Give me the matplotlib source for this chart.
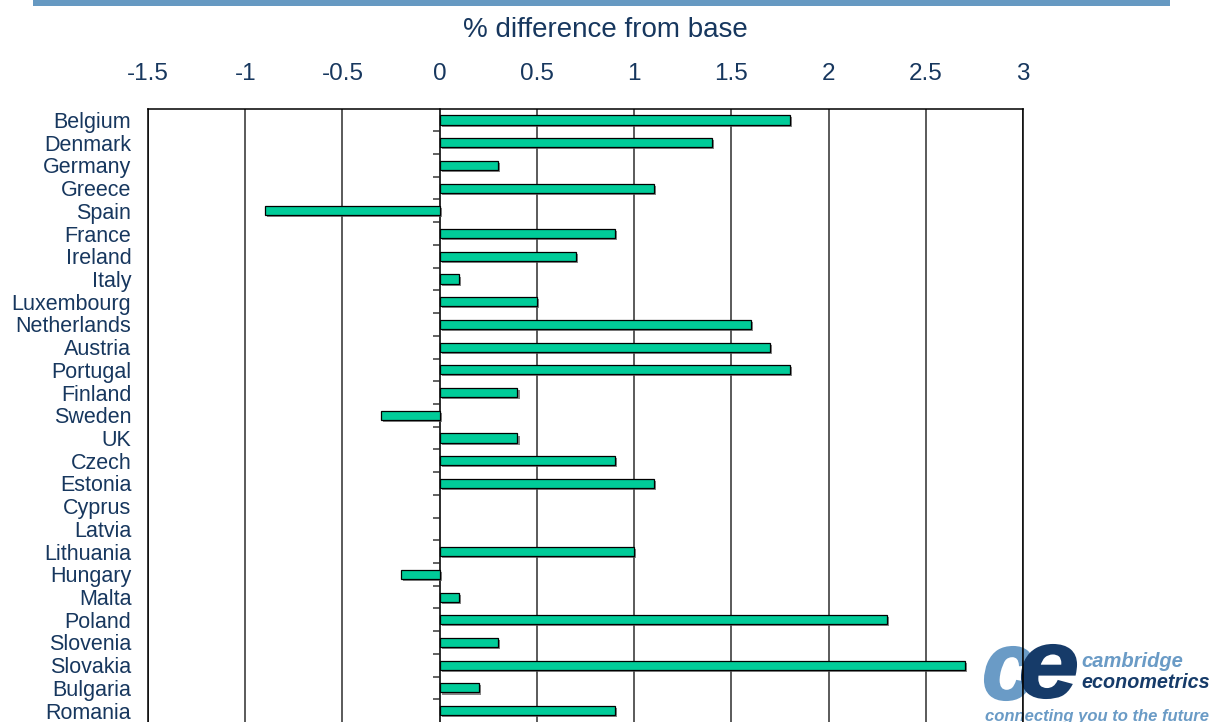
import numpy as np
import matplotlib
matplotlib.use("Agg")
import matplotlib.pyplot as plt
from matplotlib import patheffects, font_manager
from matplotlib.patches import Rectangle, PathPatch
from matplotlib.textpath import TextPath
from matplotlib.font_manager import FontProperties
from matplotlib.transforms import Affine2D

countries = ["Belgium", "Denmark", "Germany", "Greece", "Spain", "France", "Ireland",
             "Italy", "Luxembourg", "Netherlands", "Austria", "Portugal", "Finland",
             "Sweden", "UK", "Czech", "Estonia", "Cyprus", "Latvia", "Lithuania",
             "Hungary", "Malta", "Poland", "Slovenia", "Slovakia", "Bulgaria", "Romania"]
values = [1.8, 1.4, 0.3, 1.1, -0.9, 0.9, 0.7, 0.1, 0.5, 1.6, 1.7, 1.8, 0.4,
          -0.3, 0.4, 0.9, 1.1, 0.0, 0.0, 1.0, -0.2, 0.1, 2.3, 0.3, 2.7, 0.2, 0.9]
x_ticks = [-1.5, -1, -0.5, 0, 0.5, 1, 1.5, 2, 2.5, 3]
x_tick_labels = ["-1.5", "-1", "-0.5", "0", "0.5", "1", "1.5", "2", "2.5", "3"]
title = "% difference from base"

TEXT = "#17375E"
LIGHT = "#6A9BC6"
DARK = "#163B69"

names = {f.name for f in font_manager.fontManager.ttflist}
base_font = "Liberation Sans" if "Liberation Sans" in names else "DejaVu Sans"
plt.rcParams["font.family"] = [base_font, "DejaVu Sans"]

W, H, DPI = 1214, 722, 100
fig = plt.figure(figsize=(W / DPI, H / DPI), dpi=DPI, facecolor="white")

# top blue band
fig.add_artist(Rectangle((33 / W, 1 - 6 / H), (1170 - 33) / W, 6 / H,
                         transform=fig.transFigure, facecolor="#6699C2",
                         edgecolor="none", zorder=3))

ax = fig.add_axes([148 / W, 0.0, (1023 - 148) / W, 1 - 108.6 / H])
ax.set_facecolor("none")
y = np.arange(len(countries))
shadow = [patheffects.SimplePatchShadow(offset=(1.5, -1.5), shadow_rgbFace="#555555", alpha=0.7),
          patheffects.Normal()]
bars = ax.barh(y, values, height=0.4, color="#00CC99", edgecolor="black",
               linewidth=0.9, zorder=3)
for b in bars:
    if b.get_width() != 0:
        b.set_path_effects(shadow)
    else:
        b.set_visible(False)

ax.set_xlim(-1.5, 3)
ax.set_ylim(len(countries) - 0.5, -0.5)
ax.set_xticks(x_ticks)
ax.set_xticklabels(x_tick_labels)
ax.xaxis.tick_top()
ax.tick_params(axis="x", length=0, pad=17, labelsize=17.5, labelcolor=TEXT)
ax.set_yticks(y)
ax.set_yticklabels(countries)
ax.tick_params(axis="y", length=0, pad=12, labelsize=15.5, labelcolor=TEXT)
ax.grid(axis="x", color="#2e2e2e", linewidth=1.1, zorder=1)
ax.set_axisbelow(True)
for s in ["top", "left", "right"]:
    ax.spines[s].set_color("black")
    ax.spines[s].set_linewidth(1.1)
ax.spines["bottom"].set_visible(False)

# category boundary ticks on the zero axis
zero_loc = (0 - x_ticks[0]) / (x_ticks[-1] - x_ticks[0])
sec = ax.secondary_yaxis(zero_loc)
sec.set_yticks(np.arange(0.5, len(countries) - 0.5, 1.0))
sec.tick_params(axis="y", length=5, width=1.3, color="#555555", labelleft=False, labelright=False)
sec.spines["left"].set_color("black")
sec.spines["left"].set_linewidth(1.1)

fig.text(605 / W, 1 - 37 / H, title, ha="center", va="baseline",
         fontsize=20, color=TEXT)

# logo
def glyph(ch, box, color, z):
    fp = FontProperties(family=base_font, weight="bold", style="italic")
    p = TextPath((0, 0), ch, size=100, prop=fp)
    ext = p.get_extents()
    x0, y0t, x1, y1t = box  # image pixel coords (top-based)
    sx = (x1 - x0) / ext.width
    sy = (y1t - y0t) / ext.height
    tr = (Affine2D().translate(-ext.x0, -ext.y0).scale(sx, sy)
          .translate(x0, H - y1t).scale(1 / DPI) + fig.dpi_scale_trans)
    fig.add_artist(PathPatch(p, transform=tr, facecolor=color, edgecolor=color,
                             linewidth=1.5, zorder=z))

glyph("c", (985, 647, 1033, 700), LIGHT, -2)
glyph("e", (1022, 645, 1076, 698), DARK, -1)
fig.text(1081 / W, 1 - 667 / H, "cambridge", ha="left", va="baseline", fontsize=14.5,
         weight="bold", style="italic", color=LIGHT, zorder=-1)
fig.text(1081 / W, 1 - 688 / H, "econometrics", ha="left", va="baseline", fontsize=14.2,
         weight="bold", style="italic", color=DARK, zorder=-1)
fig.text(985 / W, 1 - 721 / H, "connecting you to the future", ha="left", va="baseline",
         fontsize=12, weight="bold", style="italic", color=LIGHT, zorder=-1)

fig.savefig("out.png", dpi=DPI, facecolor="white")
